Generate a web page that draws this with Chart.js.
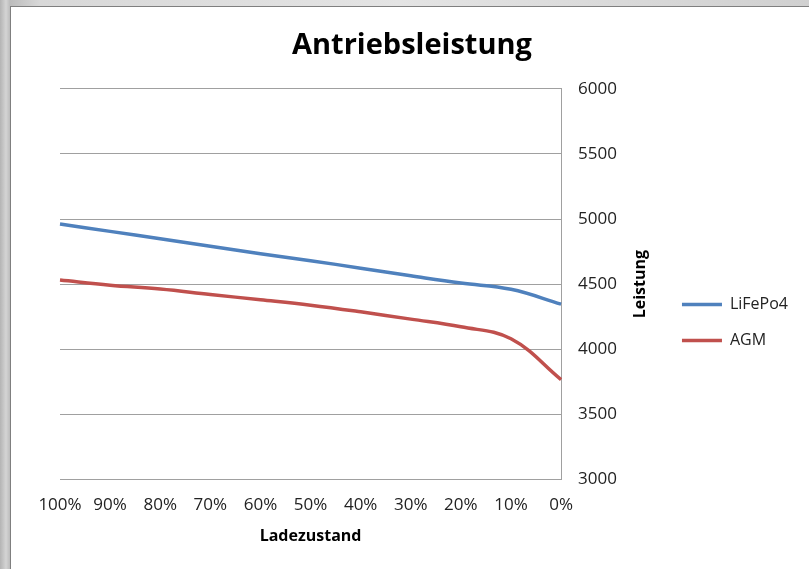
<!DOCTYPE html>
<html lang="de">
<head>
    <meta charset="UTF-8">
    <title>Antriebsleistung</title>
    <script src="https://cdn.jsdelivr.net/npm/chart.js"></script>
    <style>
        html, body {
            margin: 0;
            padding: 0;
            width: 809px;
            height: 569px;
            overflow: hidden;
            background: linear-gradient(90deg, #b4b4b4 0px, #d4d4d4 6px, #bcbcbc 10px, #d8d8d8 40px, #e4e4e4 400px, #d0d0d0 809px);
        }
        .frame {
            position: absolute;
            left: 10px;
            top: 6px;
            width: 798px;
            height: 600px;
            border: 1px solid #7f7f7f;
            background: #ffffff;
        }
        .chart-box {
            position: absolute;
            left: 0;
            top: 0;
            width: 797px;
            height: 562px;
        }
    </style>
</head>
<body>
    <div class="frame">
        <div class="chart-box">
            <canvas id="leistungChart"></canvas>
        </div>
    </div>

    <script>
        // Data
        const ladezustand = ['100%', '90%', '80%', '70%', '60%', '50%', '40%', '30%', '20%', '10%', '0%'];
        const lifepo4 = [4962, 4905, 4848, 4790, 4733, 4680, 4622, 4564, 4508, 4460, 4346];
        const agm = [4531, 4492, 4462, 4420, 4380, 4338, 4287, 4231, 4172, 4080, 3767];
        const yMin = 3000;
        const yMax = 6000;
        const yStep = 500;

        const fontFamily = '"Open Sans", "Noto Sans", sans-serif';

        // right axis title reads bottom-to-top, so draw it ourselves in the reserved space
        const axisTitlePlugin = {
            id: 'axisTitle',
            afterDraw(chart) {
                const scale = chart.scales.y;
                const t = scale.options.title;
                const size = 16;
                const ctx = chart.ctx;
                const x = scale.right - t.padding.top - size * 1.2 / 2;
                const y = (scale.top + scale.bottom) / 2;
                ctx.save();
                ctx.translate(x, y);
                ctx.rotate(-Math.PI / 2);
                ctx.font = 'bold ' + size + 'px ' + fontFamily;
                ctx.fillStyle = '#000';
                ctx.textAlign = 'center';
                ctx.textBaseline = 'middle';
                ctx.fillText('Leistung', 0, 0);
                ctx.restore();
            }
        };

        const ctx = document.getElementById('leistungChart').getContext('2d');
        const chart = new Chart(ctx, {
            type: 'line',
            data: {
                labels: ladezustand,
                datasets: [
                    {
                        label: 'LiFePo4',
                        data: lifepo4,
                        borderColor: '#4f81bd',
                        backgroundColor: '#4f81bd',
                        borderWidth: 3.5,
                        pointRadius: 0,
                        tension: 0.4
                    },
                    {
                        label: 'AGM',
                        data: agm,
                        borderColor: '#c0504d',
                        backgroundColor: '#c0504d',
                        borderWidth: 3.5,
                        pointRadius: 0,
                        tension: 0.4
                    }
                ]
            },
            options: {
                responsive: true,
                maintainAspectRatio: false,
                animation: false,
                layout: {
                    padding: { left: 15, right: 10, top: 0, bottom: 23 }
                },
                scales: {
                    x: {
                        offset: false,
                        grid: { display: false, drawTicks: true, tickLength: 11 },
                        border: { display: false },
                        afterFit(scale) {
                            scale.paddingLeft = 49;
                        },
                        ticks: {
                            padding: 5,
                            maxRotation: 0,
                            autoSkip: false,
                            color: '#222',
                            font: { family: fontFamily, size: 17 }
                        },
                        title: {
                            display: true,
                            text: 'Ladezustand',
                            color: '#000',
                            padding: { top: 6, bottom: 0 },
                            font: { family: fontFamily, size: 16, weight: 'bold' }
                        }
                    },
                    y: {
                        position: 'right',
                        min: yMin,
                        max: yMax,
                        grid: {
                            color: '#a0a0a0',
                            drawTicks: true,
                            tickLength: 15,
                            tickColor: 'rgba(0,0,0,0)'
                        },
                        border: { display: true, color: '#a0a0a0' },
                        ticks: {
                            stepSize: yStep,
                            padding: 2,
                            color: '#222',
                            font: { family: fontFamily, size: 17 },
                            callback: (value) => String(value)
                        },
                        title: {
                            display: true,
                            text: 'Leistung',
                            color: 'rgba(0,0,0,0)',
                            padding: { top: 12.4, bottom: 11.4 },
                            font: { family: fontFamily, size: 16, weight: 'bold' }
                        }
                    }
                },
                plugins: {
                    title: {
                        display: true,
                        text: 'Antriebsleistung',
                        color: '#000',
                        padding: { top: 21, bottom: 26 },
                        font: { family: fontFamily, size: 29, weight: 'bold' }
                    },
                    legend: {
                        position: 'right',
                        fullSize: false,
                        title: {
                            display: true,
                            text: '',
                            padding: { top: 65, bottom: 0 },
                            font: { size: 10 }
                        },
                        labels: {
                            usePointStyle: true,
                            pointStyle: 'line',
                            pointStyleWidth: 40,
                            padding: 20,
                            color: '#222',
                            font: { family: fontFamily, size: 16 }
                        }
                    },
                    tooltip: { enabled: false }
                }
            },
            plugins: [axisTitlePlugin]
        });
    </script>
</body>
</html>
